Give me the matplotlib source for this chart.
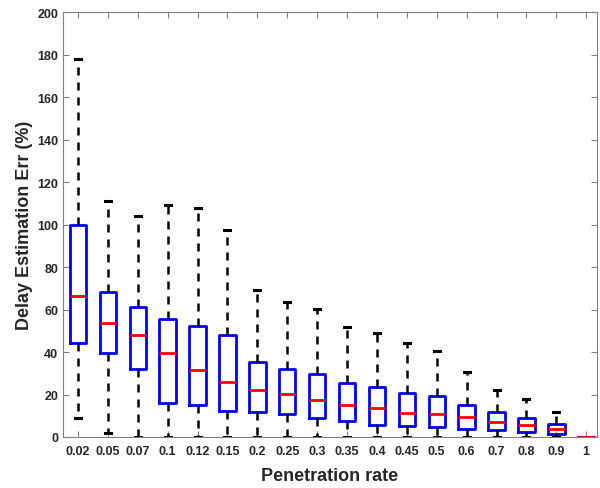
import matplotlib
matplotlib.use("Agg")
import matplotlib.pyplot as plt

plt.rcParams['font.family'] = ['Liberation Sans', 'DejaVu Sans']

# penetration rates and box statistics
rates = ["0.02", "0.05", "0.07", "0.1", "0.12", "0.15", "0.2", "0.25", "0.3",
         "0.35", "0.4", "0.45", "0.5", "0.6", "0.7", "0.8", "0.9", "1"]
whis_lo = [9.1, 1.9, 0, 0, 0, 0, 0, 0, 0, 0, 0, 0, 0, 0, 0, 0, 0, 0]
q1 = [44.3, 39.4, 32.1, 16.0, 14.9, 12.4, 11.6, 10.8, 8.9, 7.4, 5.8, 5.0, 4.9,
      3.9, 3.1, 2.3, 1.6, 0]
med = [66.5, 53.5, 48.2, 39.7, 31.5, 25.7, 21.9, 20.3, 17.4, 14.9, 13.5, 11.3,
       10.6, 9.2, 7.2, 5.5, 3.8, 0]
q3 = [100.0, 68.4, 61.2, 55.6, 52.3, 47.9, 35.4, 31.8, 29.6, 25.2, 23.3, 20.8,
      19.4, 15.2, 11.7, 8.8, 5.9, 0]
whis_hi = [178.0, 111.0, 103.8, 109.4, 107.8, 97.2, 69.0, 63.5, 60.1, 51.8,
           48.8, 44.1, 40.7, 30.4, 22.1, 18.0, 12.0, 0]

stats = []
for i in range(len(rates)):
    stats.append(dict(whislo=whis_lo[i], q1=q1[i], med=med[i], q3=q3[i],
                      whishi=whis_hi[i], fliers=[], label=rates[i]))

fig = plt.figure(figsize=(6, 4.89), dpi=100)
ax = fig.add_axes([0.105, 0.1043, 0.89, 0.869])

pos = list(range(1, len(rates) + 1))
ax.bxp(stats, positions=pos, widths=0.55, capwidths=0.2, showfliers=False,
       boxprops=dict(color="#0000ff", linewidth=2.0),
       medianprops=dict(color="#ff0000", linewidth=2.0),
       whiskerprops=dict(color="black", linewidth=1.8, linestyle=(0, (3.2, 2.8))),
       capprops=dict(color="black", linewidth=2.2))

ax.set_xlim(0.5, 18.36)
ax.set_ylim(0, 200)
ax.set_yticks(range(0, 201, 20))
ax.set_xticks(pos)
ax.set_xticklabels(rates)

for s in ax.spines.values():
    s.set_color("#808080")
    s.set_linewidth(0.8)
ax.tick_params(direction="in", length=4, width=0.8, color="#808080",
               top=True, right=True, labelsize=9, labelcolor="#262626")
ax.tick_params(axis="x", pad=6)
for lab in ax.get_xticklabels() + ax.get_yticklabels():
    lab.set_fontweight("bold")

ax.set_xlabel("Penetration rate", fontsize=13, fontweight="bold", color="#262626",
              labelpad=7)
ax.set_ylabel("Delay Estimation Err (%)", fontsize=13, fontweight="bold",
              color="#262626", labelpad=3)

fig.savefig("out.png", dpi=100)
